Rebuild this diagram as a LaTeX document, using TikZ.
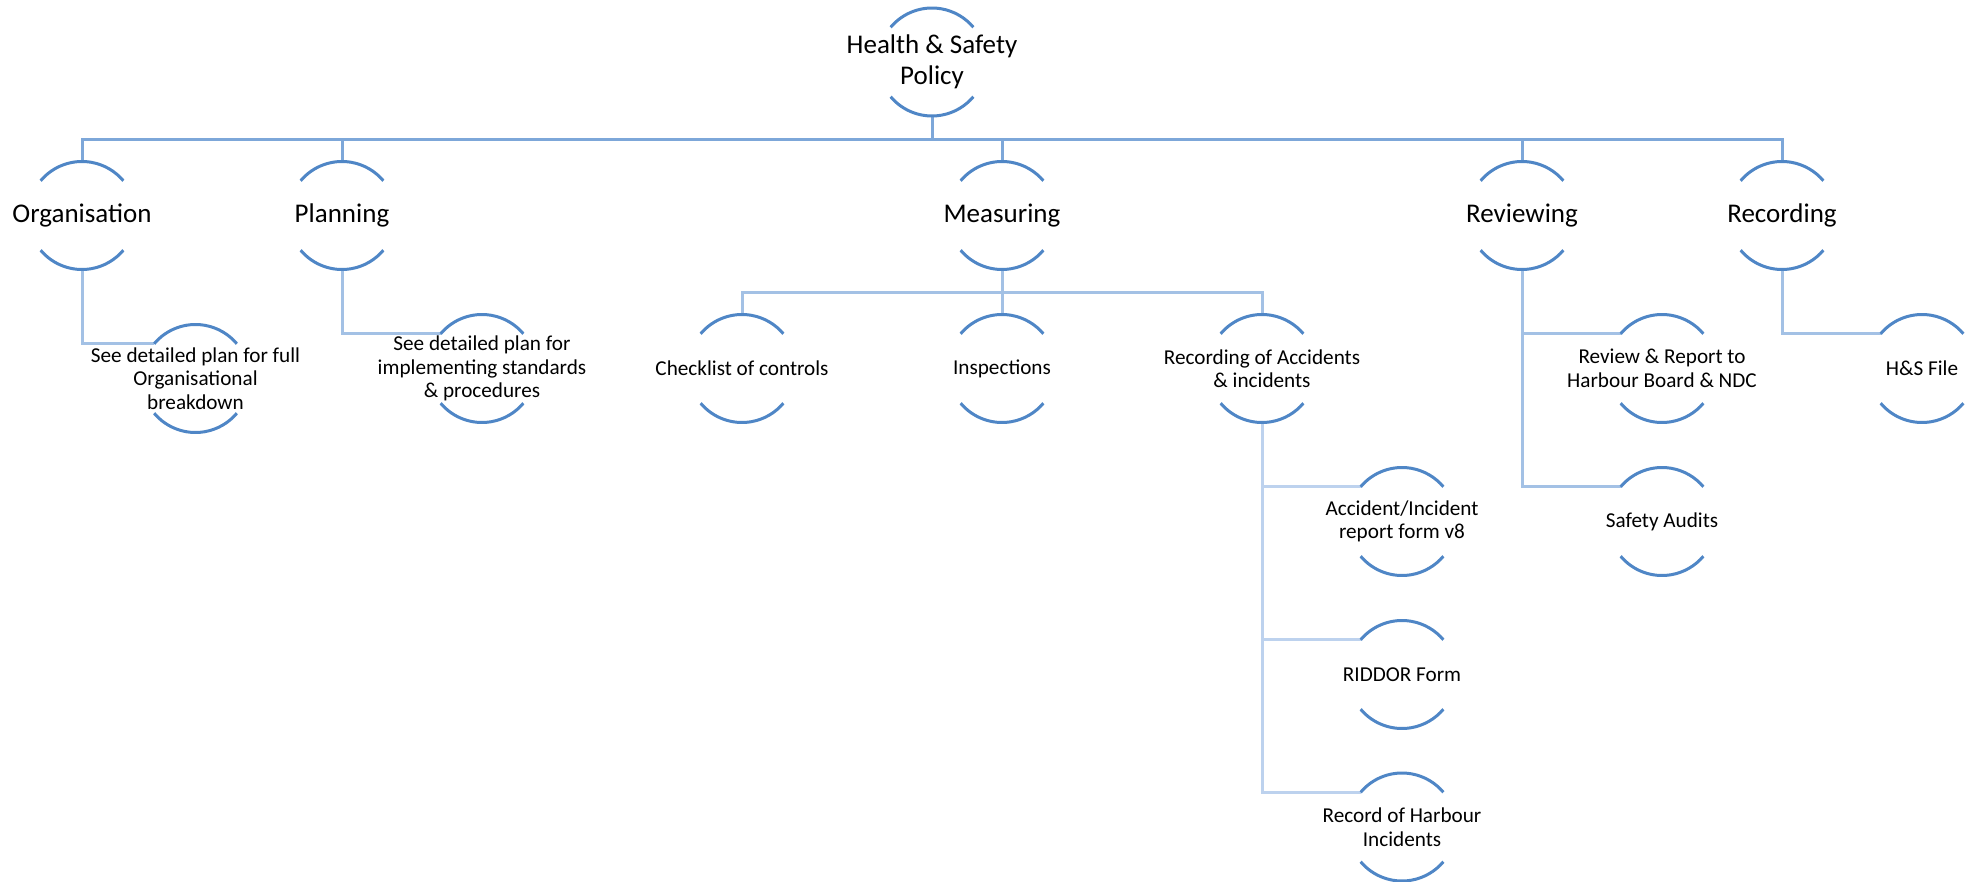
\documentclass[tikz,border=0pt]{standalone}
\usepackage{fontspec}
\setmainfont{Carlito}
\definecolor{arcc}{HTML}{4F86C6}
\definecolor{conAc}{HTML}{7DA7D9}
\definecolor{conBc}{HTML}{A3C1E5}
\definecolor{conCc}{HTML}{BDD2EE}
\newcommand\rims[1]{%
  \draw[rim] (#1.140) arc[start angle=140,end angle=40,radius=54pt];
  \draw[rim] (#1.220) arc[start angle=220,end angle=320,radius=54pt];}
\begin{document}
\begin{tikzpicture}[x=1pt,y=1pt,
  hub/.style={circle,minimum size=108pt,inner sep=0pt,outer sep=0pt},
  big/.style={align=center,font=\fontsize{27}{31}\selectfont,inner sep=0pt,text=black},
  small/.style={align=center,font=\fontsize{21.2}{23.5}\selectfont,inner sep=0pt,text=black},
  rim/.style={draw=arcc,line width=3pt},
  conA/.style={draw=conAc,line width=3pt},
  conB/.style={draw=conBc,line width=3pt},
  conC/.style={draw=conCc,line width=3pt}]
\fill[white] (0,0) rectangle (1972,-882);
\useasboundingbox (0,0) rectangle (1972,-882);
% hubs
\node[hub] (hs) at (932,-62) {};
\node[hub] (org) at (82,-215.5) {};
\node[hub] (plan) at (342,-215.5) {};
\node[hub] (meas) at (1002,-215.5) {};
\node[hub] (rev) at (1522,-215.5) {};
\node[hub] (rec) at (1782,-215.5) {};
\node[hub] (orgc) at (195.5,-378.5) {};
\node[hub] (planc) at (482,-368.5) {};
\node[hub] (check) at (742,-368.5) {};
\node[hub] (insp) at (1002,-368.5) {};
\node[hub] (racc) at (1262,-368.5) {};
\node[hub] (rr) at (1662,-368.5) {};
\node[hub] (hsf) at (1922,-368.5) {};
\node[hub] (acc) at (1402,-521.5) {};
\node[hub] (sa) at (1662,-521.5) {};
\node[hub] (rid) at (1402,-674.5) {};
\node[hub] (rhi) at (1402,-827) {};
% bus coordinates
\coordinate (b1) at (0,-139.3);
\coordinate (b2) at (0,-292.5);
% level 1 connectors
\foreach \c in {org,plan,meas,rev,rec}
  \draw[conA] (hs.270) |- (b1 -| \c.90) -- (\c.90);
% level 2 connectors
\draw[conB] (org.270) |- (orgc.140);
\draw[conB] (plan.270) |- (planc.140);
\foreach \c in {check,insp,racc}
  \draw[conB] (meas.270) |- (b2 -| \c.90) -- (\c.90);
\draw[conB] (rev.270) |- (rr.140);
\draw[conB] (rev.270) |- (sa.140);
\draw[conB] (rec.270) |- (hsf.140);
% level 3 connectors
\draw[conC] (racc.270) |- (acc.140);
\draw[conC] (racc.270) |- (rid.140);
\draw[conC] (racc.270) |- (rhi.140);
% rims
\foreach \c in {hs,org,plan,meas,rev,rec,orgc,planc,check,insp,racc,rr,hsf,acc,sa,rid,rhi}
  {\rims{\c}}
% texts
\node[big] (hs-t) at (hs) {Health \& Safety\\Policy};
\node[big] (org-t) at (org) {Organisation};
\node[big] (plan-t) at (plan) {Planning};
\node[big] (meas-t) at (meas) {Measuring};
\node[big] (rev-t) at (rev) {Reviewing};
\node[big] (rec-t) at (rec) {Recording};
\node[small] (orgc-t) at (orgc) {See detailed plan for full\\Organisational\\breakdown};
\node[small] (planc-t) at (planc) {See detailed plan for\\implementing standards\\\& procedures};
\node[small] (check-t) at (check) {Checklist of controls};
\node[small] (insp-t) at (insp) {Inspections};
\node[small] (racc-t) at (racc) {Recording of Accidents\\\& incidents};
\node[small] (rr-t) at (rr) {Review \& Report to\\Harbour Board \& NDC};
\node[small] (hsf-t) at (hsf) {H\&S File};
\node[small] (acc-t) at (acc) {Accident/Incident\\report form v8};
\node[small] (sa-t) at (sa) {Safety Audits};
\node[small] (rid-t) at (rid) {RIDDOR Form};
\node[small] (rhi-t) at (rhi) {Record of Harbour\\Incidents};
\end{tikzpicture}
\end{document}
